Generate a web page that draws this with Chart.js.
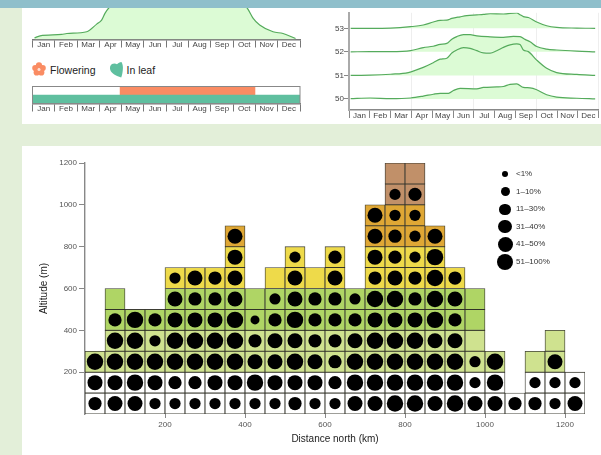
<!DOCTYPE html>
<html><head><meta charset="utf-8">
<script src="https://cdn.jsdelivr.net/npm/chart.js@4"></script>
<style>
html,body{margin:0;padding:0;background:#e3efd9;overflow:hidden}
body{width:601px;height:455px;position:relative;font-family:"Liberation Sans",Arial,sans-serif}
.abs{position:absolute}
canvas{position:absolute;display:block}
.lg{position:absolute;font-size:10.5px;color:#222;line-height:12px;white-space:nowrap}
.sz{position:absolute;font-size:8px;color:#333;line-height:10px;white-space:nowrap}
.dot{position:absolute;background:#000;border-radius:50%}
</style></head><body>
<div class="abs" style="left:22px;top:8px;width:579px;height:116px;background:#fff"></div>
<div class="abs" style="left:22px;top:146px;width:579px;height:309px;background:#fff"></div>
<canvas id="c1" width="290" height="44" style="left:22px;top:8px"></canvas>
<canvas id="c2" width="290" height="40" style="left:22px;top:80px"></canvas>
<canvas id="c3" width="281" height="116" style="left:320px;top:8px"></canvas>
<canvas id="c4" width="601" height="309" style="left:0;top:146px"></canvas>
<div class="abs" style="left:0;top:0;width:601px;height:8px;background:#8fbfcb"></div>
<svg class="abs" style="left:32px;top:62px" width="15" height="15" viewBox="0 0 15 15">
<g fill="#fa8c63"><circle cx="7" cy="3.4" r="3.1"/><circle cx="10.7" cy="6.1" r="3.1"/><circle cx="9.3" cy="10.5" r="3.1"/><circle cx="4.7" cy="10.5" r="3.1"/><circle cx="3.3" cy="6.1" r="3.1"/></g><circle cx="7" cy="7.4" r="1.5" fill="#fde0d3"/></svg>
<div class="lg" style="left:50px;top:64px">Flowering</div>
<svg class="abs" style="left:109px;top:61px" width="15" height="17" viewBox="0 0 15 17">
<path d="M12.5 1 C13.8 3 14.2 6 13.8 9 C13.5 12 13 15 12.2 16.5 C9 15.5 4 13.5 2 10.5 C0.5 8 0.6 4.5 3 3 C5 1.9 7 2.6 8 3.2 C9 2 10.8 1.3 12.5 1 Z" fill="#5fbf9f"/></svg>
<div class="lg" style="left:126.5px;top:64px">In leaf</div>
<div id="sizes"></div>
<script>
const months=['Jan','Feb','Mar','Apr','May','Jun','Jul','Aug','Sep','Oct','Nov','Dec'];

// Overall leaf curve (top left, runs above the crop)
const leafMonths=[0.09,0.34,1.31,1.54,2.43,2.88,3.1,3.25,3.42,4,5,7,8,9,9.63,9.9,10.19,10.79,11.24,11.8];
const leafValues=[0.53,1.17,1.6,1.91,2.45,4.89,6.17,8.3,10,13,15,15,15,13,10,6.7,4.6,2.45,1.91,0.32];

// Phenology strip
const phenoRows=['Flowering','In leaf'];
const phenoSpans=[[3.93,9.98],[0,12]];

// Ridgelines by latitude
const ridgeMonths53=[0.08,1.01,2,2.96,3.57,4.05,4.38,4.7,4.94,5.34,5.66,6.14,6.46,6.78,7.42,8.06,8.22,8.38,8.62,9.02,9.5,9.98,10.95,11.83];
const ridgeValues53=[53,53,53.01,53.07,53.14,53.27,53.34,53.35,53.42,53.49,53.54,53.57,53.59,53.62,53.61,53.66,53.58,53.5,53.46,53.27,53.11,53.04,53.01,53];
const ridgeMonths52=[0.08,1.01,2,2.96,3.57,4.05,4.38,4.7,4.94,5.18,5.5,5.82,6.14,6.78,7.42,7.9,8.22,8.46,8.7,9.02,9.5,9.98,10.95,11.83];
const ridgeValues52=[52,52.01,52.01,52.05,52.18,52.24,52.32,52.36,52.54,52.65,52.73,52.73,52.68,52.64,52.62,52.66,52.65,52.53,52.43,52.23,52.12,52.08,52.03,52];
const ridgeMonths51=[0.08,1.01,2,2.85,3.57,4.05,4.38,4.7,4.94,5.18,5.5,5.82,6.14,6.46,6.78,7.1,7.42,7.74,8.06,8.22,8.38,8.62,9.02,9.5,9.98,10.95,11.83];
const ridgeValues51=[51,51.01,51.05,51.12,51.34,51.54,51.69,51.73,51.95,52.08,52.18,52.15,52.05,51.96,51.95,52.05,52.19,52.3,52.34,52.31,52.08,52.01,51.65,51.3,51.12,51.04,51];
const ridgeMonths50=[0.08,1.01,2,2.96,3.57,4.05,4.38,4.78,5.02,5.34,6.14,6.46,7.1,7.42,7.74,8.06,8.38,8.7,9.02,9.5,9.98,10.95,11.83];
const ridgeValues50=[50.01,50.04,50.01,50.04,50.12,50.2,50.24,50.24,50.36,50.45,50.43,50.49,50.51,50.53,50.62,50.64,50.49,50.47,50.39,50.18,50.08,50.03,50];
const ridgeTicks=[50,51,52,53];
const distanceTicks=[200,400,600,800,1000,1200];
const altitudeTicks=[200,400,600,800,1000,1200];

// Altitude/distance grid: one row per 100 m band, one entry per 50 km bin.
// _ = no cell, 0 = cell without dot, 1-6 = abundance class
const _=null;
const band0 =[4,5,5,3,3,3,3,3,3,3,4,3,3,5,5,6,6,5,6,5,5,4,4,3,5];
const band1 =[5,5,6,5,4,4,5,5,6,5,5,5,4,6,6,6,6,6,6,3,6,_,3,3,3];
const band2 =[6,6,6,6,6,6,6,6,5,5,6,5,4,6,6,6,6,6,6,3,6,_,0,5,_];
const band3 =[_,6,6,3,6,6,6,6,4,5,5,4,4,5,6,6,6,5,5,0,_,_,_,0,_];
const band4 =[_,4,6,4,5,5,5,6,2,4,6,4,4,4,5,5,5,6,4,0,_,_,_,_,_];
const band5 =[_,0,_,_,5,4,4,5,0,3,5,4,4,3,6,6,4,6,5,0,_,_,_,_,_];
const band6 =[_,_,_,_,3,5,4,5,_,0,5,0,5,_,4,5,4,6,4,_,_,_,_,_,_];
const band7 =[_,_,_,_,_,_,_,5,_,_,3,_,4,_,5,4,3,6,_,_,_,_,_,_,_];
const band8 =[_,_,_,_,_,_,_,5,_,_,_,_,_,_,5,4,3,5,_,_,_,_,_,_,_];
const band9 =[_,_,_,_,_,_,_,_,_,_,_,_,_,_,5,3,3,_,_,_,_,_,_,_,_];
const band10=[_,_,_,_,_,_,_,_,_,_,_,_,_,_,_,3,4,_,_,_,_,_,_,_,_];
const band11=[_,_,_,_,_,_,_,_,_,_,_,_,_,_,_,0,0,_,_,_,_,_,_,_,_];
const bands=[band0,band1,band2,band3,band4,band5,band6,band7,band8,band9,band10,band11];
const bandColors=['#ffffff','#ffffff','#cfe28f','#cfe28f','#afd565','#afd565','#eeda4a','#eeda4a','#dfa735','#dfa735','#c19069','#c19069'];
const classLabels=['<1%','1\u201310%','11\u201330%','31\u201340%','41\u201350%','51\u2013100%'];
const classRadii=[3.3,4.5,5.6,6.6,7.5,8.2];
const binKm=50, bandM=100;

const FONT='"Liberation Sans",Arial,sans-serif';
Chart.defaults.font.family=FONT;
Chart.defaults.animation=false;
Chart.defaults.responsive=false;
Chart.defaults.plugins.legend.display=false;
Chart.defaults.plugins.tooltip.enabled=false;

function monthAxis(h,col,pad){return {
  type:'category',labels:months,offset:true,position:'bottom',
  grid:{offset:true,drawOnChartArea:false,tickLength:8,color:col,lineWidth:1},
  border:{display:true,color:col,width:1.4},
  ticks:{padding:pad,font:{size:8},color:'#444',maxRotation:0,autoSkip:false},
  afterFit(s){s.height=h;}
};}
function dataAxis(){return {type:'linear',min:0,max:12,display:false};}
const pts=(xs,ys)=>xs.map((x,i)=>({x,y:ys[i]}));
const LINE='#55ab5c';

new Chart(document.getElementById('c1'),{type:'line',
 data:{datasets:[{data:pts(leafMonths,leafValues),xAxisID:'xd',yAxisID:'y',borderColor:LINE,borderWidth:1.2,backgroundColor:'#dcfbd5',fill:'origin',pointRadius:0,cubicInterpolationMode:'monotone'}]},
 options:{layout:{padding:{left:10.5,right:12,top:0,bottom:0}},
  scales:{xd:dataAxis(),xm:monthAxis(12.5,'#777',-8),y:{type:'linear',min:0,max:10,display:false}}}});

const frame={id:'frame',afterDatasetsDraw(c){const a=c.chartArea,x=c.ctx;x.save();x.strokeStyle='#888';x.lineWidth=1;x.strokeRect(a.left,a.top,a.width,a.height);x.restore();}};
new Chart(document.getElementById('c2'),{type:'bar',
 data:{labels:phenoRows,datasets:[{data:phenoSpans,xAxisID:'xd',yAxisID:'y',backgroundColor:['#fa8c63','#5fbf9f'],barPercentage:1,categoryPercentage:1,borderWidth:0}]},
 options:{indexAxis:'y',layout:{padding:{left:10.5,right:12,top:6.5,bottom:0}},
  scales:{xd:dataAxis(),xm:monthAxis(16.5,'#777',-8),y:{type:'category',labels:phenoRows,display:false}}},
 plugins:[frame]});

const ridgeSets=[[ridgeMonths53,ridgeValues53,53],[ridgeMonths52,ridgeValues52,52],[ridgeMonths51,ridgeValues51,51],[ridgeMonths50,ridgeValues50,50]];
new Chart(document.getElementById('c3'),{type:'line',
 data:{datasets:ridgeSets.map(([m,v,b])=>({data:pts(m,v),xAxisID:'xg',yAxisID:'y',borderColor:LINE,borderWidth:1.2,backgroundColor:'#dcfbd5',fill:{value:b},pointRadius:0,cubicInterpolationMode:'monotone'}))},
 options:{plugins:{filler:{drawTime:'beforeDatasetsDraw'}},layout:{padding:{left:0,right:2.3,top:0,bottom:0}},
  scales:{
   xg:{type:'linear',min:0,max:12,position:'bottom',grid:{color:'#eeeeee',lineWidth:1,drawTicks:false,tickLength:0},border:{display:false},ticks:{stepSize:3,display:false},afterFit(s){s.height=0;}},
   xm:monthAxis(14,'#888',-7),
   y:{type:'linear',min:49.53,max:53.66,grid:{display:true,drawOnChartArea:false,tickLength:5,color:'#888'},border:{display:true,color:'#aaa',width:2},
      ticks:{stepSize:1,includeBounds:false,font:{size:8},color:'#444',padding:0},afterBuildTicks(s){s.ticks=ridgeTicks.map(value=>({value}));},afterFit(s){s.width=29;}}
  }}});

const cells=[],cellColors=[],dots=[];
bands.forEach((row,b)=>row.forEach((c,i)=>{
  if(c===null)return;
  const x=(i+0.5)*binKm;
  cells.push({x,y:[b*bandM,(b+1)*bandM]});cellColors.push(bandColors[b]);
  if(c>0)dots.push({x,y:(b+0.5)*bandM,r:classRadii[c-1]});
}));
new Chart(document.getElementById('c4'),{type:'bar',
 data:{datasets:[
  {type:'bubble',data:dots,backgroundColor:'#000',borderWidth:0,order:0},
  {type:'bar',data:cells,backgroundColor:cellColors,borderColor:'rgba(40,40,30,0.9)',borderWidth:0.85,barPercentage:1,categoryPercentage:1,borderSkipped:false,order:1}
 ]},
 options:{layout:{padding:{left:0,right:16,top:17,bottom:0}},
  scales:{
   x:{type:'linear',min:0,max:1250,offset:false,grid:{offset:false,drawOnChartArea:false,tickLength:4,color:'#888'},border:{display:false},
      ticks:{font:{size:8},color:'#555',padding:2,maxRotation:0,callback:v=>String(v)},
      afterBuildTicks(s){s.ticks=distanceTicks.map(value=>({value}));},
      title:{display:true,text:'Distance north (km)',font:{size:10},color:'#222',padding:{top:0,bottom:10}},
      afterFit(s){s.height=41;}},
   y:{type:'linear',min:0,max:1200,grid:{drawOnChartArea:false,tickLength:6,color:'#888'},border:{display:true,color:'#888',width:1.4},
      ticks:{font:{size:8},color:'#555',padding:2,callback:v=>String(v)},
      afterBuildTicks(s){s.ticks=altitudeTicks.map(value=>({value}));},
      title:{display:true,text:'Altitude (m)',font:{size:10},color:'#222',padding:{top:38,bottom:0}},
      afterFit(s){s.width=85;}}
  }}});

// Abundance key
const sizes=document.getElementById('sizes');
classLabels.forEach((t,i)=>{
  const yc=174+i*17.6,r=classRadii[i];
  const d=document.createElement('div');d.className='dot';
  d.style.cssText=`left:${505-r}px;top:${yc-r}px;width:${2*r}px;height:${2*r}px`;
  const l=document.createElement('div');l.className='sz';l.textContent=t;
  l.style.cssText=`left:516px;top:${yc-5}px`;
  sizes.append(d,l);
});
</script>
</body></html>
